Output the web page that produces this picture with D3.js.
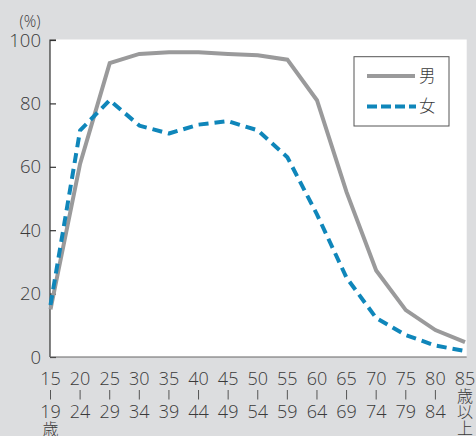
<!DOCTYPE html>
<html>
<head>
<meta charset="utf-8">
<script src="https://cdn.jsdelivr.net/npm/d3@7"></script>
<style>
html,body{margin:0;padding:0;background:#dcdddf;}
svg{display:block;}
text{font-family:"Open Sans","Noto Sans CJK JP",sans-serif;font-weight:300;fill:#3a3a3a;}
</style>
</head>
<body>
<svg id="chart" width="476" height="436"></svg>
<script>
const ageStart = ["15","20","25","30","35","40","45","50","55","60","65","70","75","80","85"];
const ageEnd   = ["19","24","29","34","39","44","49","54","59","64","69","74","79","84",""];
const categories = ageStart.map((s,i)=>s+"-"+(ageEnd[i]||"+"));
const male   = [15, 61, 92.7, 95.6, 96.1, 96.1, 95.6, 95.2, 93.8, 81, 52, 27.3, 14.8, 8.5, 4.7];
const female = [16.4, 71.5, 81, 73, 70.5, 73.3, 74.4, 71.5, 63, 45, 25, 12.3, 6.9, 3.6, 1.9];
const yTicks = [0,20,40,60,80,100];
const seriesNames = ["男","女"];

(function(){
const svg = d3.select("#chart");
const pL = 50, pR = 466.7, pT = 39.5, pB = 357;

const x = d3.scalePoint().domain(categories).range([50.5, 465]);
const y = d3.scaleLinear().domain([0,100]).range([357, 40]);

// plot background
svg.append("rect").attr("x",pL).attr("y",pT).attr("width",pR-pL).attr("height",pB-pT).attr("fill","#ffffff");

// y axis
const yAxis = d3.axisRight(y).tickValues(yTicks).tickSize(6).tickFormat("");
const gy = svg.append("g").attr("transform",`translate(${pL},0)`).call(yAxis);
gy.select(".domain").attr("stroke","#333").attr("stroke-width",1.2).attr("d",`M6,${y(100)}H0V${y(0)}`);
gy.selectAll(".tick line").attr("stroke","#333").attr("stroke-width",1.2);

// y labels
svg.append("g").selectAll("text").data(yTicks).join("text")
  .attr("x",41).attr("y",d=>y(d)).attr("dy","0.36em")
  .attr("text-anchor","end").attr("font-size",18.5).text(d=>d);
svg.append("text").attr("x",30).attr("y",21).attr("dy","0.36em").attr("text-anchor","middle")
  .attr("font-size",15.5).text("(%)");

// x axis line
svg.append("line").attr("x1",pL).attr("x2",pR).attr("y1",pB).attr("y2",pB)
  .attr("stroke","#666").attr("stroke-width",1.2);

// x labels
const xl = svg.append("g").selectAll("g").data(categories).join("g")
  .attr("transform",d=>`translate(${x(d)},0)`);
xl.each(function(d,i){
  const g = d3.select(this);
  g.append("text").attr("y",379).attr("dy","0.36em").attr("text-anchor","middle")
    .attr("font-size",18).text(ageStart[i]);
  if (ageEnd[i]) {
    g.append("line").attr("x1",0).attr("x2",0).attr("y1",390).attr("y2",399.5)
      .attr("stroke","#555").attr("stroke-width",1);
    g.append("text").attr("y",412).attr("dy","0.36em").attr("text-anchor","middle")
      .attr("font-size",18).text(ageEnd[i]);
    if (i===0) g.append("text").attr("y",429).attr("dy","0.36em").attr("text-anchor","middle")
      .attr("font-size",16).text("歳");
  } else {
    ["歳","以","上"].forEach((t,j)=>{
      g.append("text").attr("y",396 + j*16.2).attr("dy","0.36em").attr("text-anchor","middle")
        .attr("font-size",16).text(t);
    });
  }
});

// lines
const line = d3.line().x((d,i)=>x(categories[i])).y(d=>y(d));
svg.append("path").datum(male).attr("d",line).attr("fill","none")
  .attr("stroke","#9a9a9b").attr("stroke-width",4).attr("stroke-linejoin","miter");
svg.append("path").datum(female).attr("d",line).attr("fill","none")
  .attr("stroke","#0f86ba").attr("stroke-width",4).attr("stroke-dasharray","10,6").attr("stroke-linejoin","round");

// legend
const lg = svg.append("g");
lg.append("rect").attr("x",354).attr("y",56.7).attr("width",95).attr("height",69.3)
  .attr("fill","#fff").attr("stroke","#555").attr("stroke-width",1);
lg.append("line").attr("x1",367).attr("x2",415).attr("y1",76).attr("y2",76)
  .attr("stroke","#9a9a9b").attr("stroke-width",4);
lg.append("line").attr("x1",367).attr("x2",416).attr("y1",106.5).attr("y2",106.5)
  .attr("stroke","#0f86ba").attr("stroke-width",4).attr("stroke-dasharray","10,4");
lg.append("text").attr("x",419).attr("y",76).attr("dy","0.36em").attr("font-size",16.5).text(seriesNames[0]);
lg.append("text").attr("x",419).attr("y",106.5).attr("dy","0.36em").attr("font-size",16.5).text(seriesNames[1]);
})();
</script>
</body>
</html>
